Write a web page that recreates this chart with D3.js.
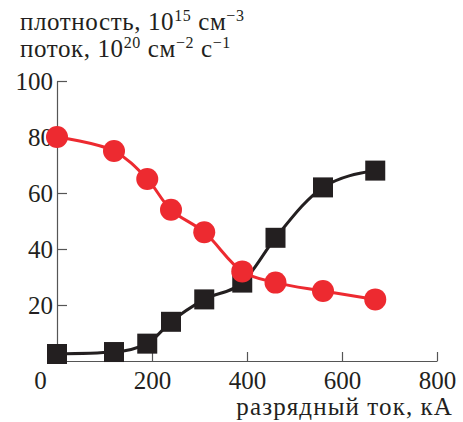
<!DOCTYPE html>
<html>
<head>
<meta charset="utf-8">
<script src="https://cdn.jsdelivr.net/npm/d3@7"></script>
<style>
  body { margin: 0; background: #fff; }
  text { font-family: "Liberation Serif", "DejaVu Serif", serif; fill: #231f20; }
</style>
</head>
<body>
<div id="chart"></div>
<script>
// discharge current, kA
const current = [0, 120, 190, 240, 310, 390, 460, 560, 670];
// density, 10^15 cm^-3 (red circles)
const density = [80, 75, 65, 54, 46, 32, 28, 25, 22];
// flux, 10^20 cm^-2 s^-1 (black squares)
const flux = [2.5, 3.2, 6.2, 14, 22, 28, 44, 62, 68];

const xTicks = [0, 200, 400, 600, 800];
const yTicks = [20, 40, 60, 80, 100];

const red = "#ed2a30";
const black = "#231f20";
const serif = "'Liberation Serif', serif";

const width = 463, height = 422;

const svg = d3.select("#chart").append("svg")
  .attr("width", width)
  .attr("height", height);

// scales
const x = d3.scaleLinear().domain([0, 800]).range([57, 437]);
const y = d3.scaleLinear().domain([0, 100]).range([361, 81]);

// axes, ticks point inward
const xAxis = svg.append("g")
  .attr("transform", "translate(0," + y(0) + ")")
  .call(d3.axisBottom(x).tickValues(xTicks).tickSizeInner(-9).tickSizeOuter(0).tickPadding(10));

const yAxis = svg.append("g")
  .attr("transform", "translate(" + x(0) + ",0)")
  .call(d3.axisLeft(y).tickValues(yTicks).tickSizeInner(-10).tickSizeOuter(0).tickPadding(4));

[xAxis, yAxis].forEach(function(g) {
  g.attr("font-family", serif).attr("font-size", 25);
  g.selectAll("path, line").attr("stroke", "#555").attr("stroke-width", 1.2);
  g.selectAll("text")
    .style("font-family", serif)
    .style("font-size", "25px")
    .attr("fill", black);
});

// the "0" label sits left of the y axis
xAxis.selectAll(".tick text").filter(function(d) { return d === 0; }).attr("x", -17);

// curves
const redLine = d3.line()
  .x(function(d, i) { return x(current[i]); })
  .y(function(d) { return y(d); })
  .curve(d3.curveCatmullRom.alpha(0.5));

const blackLine = d3.line()
  .x(function(d, i) { return x(current[i]); })
  .y(function(d) { return y(d); })
  .curve(d3.curveMonotoneX);

svg.append("path")
  .datum(flux)
  .attr("d", blackLine)
  .attr("fill", "none")
  .attr("stroke", black)
  .attr("stroke-width", 3);

svg.selectAll(".sq")
  .data(flux)
  .enter().append("rect")
  .attr("class", "sq")
  .attr("x", function(d, i) { return x(current[i]) - 10; })
  .attr("y", function(d) { return y(d) - 10; })
  .attr("width", 20)
  .attr("height", 20)
  .attr("fill", black);

svg.append("path")
  .datum(density)
  .attr("d", redLine)
  .attr("fill", "none")
  .attr("stroke", red)
  .attr("stroke-width", 3);

svg.selectAll(".dot")
  .data(density)
  .enter().append("circle")
  .attr("class", "dot")
  .attr("cx", function(d, i) { return x(current[i]); })
  .attr("cy", function(d) { return y(d); })
  .attr("r", 11)
  .attr("fill", red);

// y title, two lines with superscripts
const t1 = svg.append("text").attr("x", 20).attr("y", 30)
  .style("font-size", "25px").style("letter-spacing", "0.6px");
t1.append("tspan").text("плотность, 10");
t1.append("tspan").attr("dy", -9).style("font-size", "16px").text("15");
t1.append("tspan").attr("dy", 9).text(" см");
t1.append("tspan").attr("dy", -9).style("font-size", "16px").text("−3");

const t2 = svg.append("text").attr("x", 20).attr("y", 57)
  .style("font-size", "25px").style("letter-spacing", "0.6px");
t2.append("tspan").text("поток, 10");
t2.append("tspan").attr("dy", -9).style("font-size", "16px").text("20");
t2.append("tspan").attr("dy", 9).text(" см");
t2.append("tspan").attr("dy", -9).style("font-size", "16px").text("−2");
t2.append("tspan").attr("dy", 9).text(" с");
t2.append("tspan").attr("dy", -9).style("font-size", "16px").text("−1");

// x title
svg.append("text")
  .attr("x", 453)
  .attr("y", 415)
  .attr("text-anchor", "end")
  .style("font-size", "25px")
  .style("letter-spacing", "1.1px")
  .text("разрядный ток, кА");
</script>
</body>
</html>
